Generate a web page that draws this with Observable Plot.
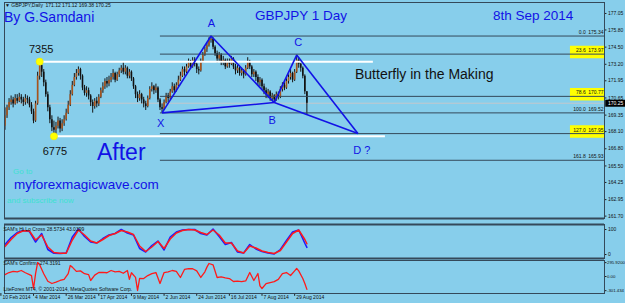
<!DOCTYPE html>
<html><head><meta charset="utf-8">
<script src="https://cdn.jsdelivr.net/npm/d3@7"></script>
<script src="https://cdn.jsdelivr.net/npm/@observablehq/plot@0.6"></script>
<style>
html,body{margin:0;padding:0;background:#87CEEB;}
#chart{position:relative;width:625px;height:303px;overflow:hidden;background:#87CEEB;font-family:"Liberation Sans",Arial,sans-serif;}
#chart svg{position:absolute;left:0;}
.t{position:absolute;white-space:nowrap;line-height:1;}
</style></head><body><div id="chart"></div>
<script>
// ---------- DATA ----------
const firstBar = 2;          // bar index of first candle (bar 0 = 10 Feb 2014)
const firstOpen = 168.5;
const closes = [169.3,169.9,170.3,170.5,170.2,170.6,170.4,170.7,170.5,170.3,170.6,170.5,170.1,169.6,168.9,
170.2,172.3,173.1,172.6,171.8,170.9,169.9,169.0,168.4,168.2,168.5,168.9,168.3,168.7,169.0,169.5,170.1,170.9,
171.6,172.2,172.5,172.8,172.3,171.4,171.0,171.2,170.8,170.3,170.0,170.4,170.2,170.7,171.2,171.5,171.9,171.7,
172.0,172.2,172.5,172.0,172.4,172.7,172.9,172.6,172.9,172.3,172.6,172.1,171.5,170.9,170.6,170.9,170.5,170.2,
170.0,170.6,171.3,171.5,171.2,171.4,170.5,169.9,169.8,170.3,170.8,170.6,171.1,171.5,171.2,171.6,172.0,172.3,
172.8,172.6,173.0,173.3,173.0,173.5,173.2,172.8,172.7,173.4,173.9,174.3,174.6,175.0,175.1,174.5,174.0,173.6,
173.9,173.3,173.5,173.0,173.4,173.2,173.6,173.0,172.7,172.9,172.5,172.7,172.4,172.9,173.4,173.0,172.4,172.6,
172.2,171.8,172.0,171.5,171.2,170.9,171.1,170.6,170.8,170.5,170.9,170.7,171.3,171.6,171.4,171.9,172.2,172.5,
172.0,172.6,173.5,173.2,172.9,172.3,171.12,170.25];
const highs = [169.9,170.1,170.6,170.8,170.7,170.9,170.9,171.0,170.9,170.7,170.9,170.8,170.7,170.3,169.8,
170.4,172.6,173.4,173.3,172.8,172.0,171.1,170.1,169.3,168.9,168.8,169.2,169.1,169.0,169.3,169.8,170.4,171.2,
171.9,172.5,172.8,173.0,172.9,172.4,171.6,171.5,171.4,170.9,170.5,170.6,170.7,170.9,171.4,171.8,172.1,172.2,
172.3,172.5,172.8,172.6,172.6,172.9,173.1,173.35,173.1,173.0,172.8,172.7,172.2,171.6,171.1,171.2,171.0,170.7,
170.4,170.8,171.5,171.8,171.6,171.7,171.5,170.6,170.2,170.5,171.0,171.0,171.3,171.8,171.7,171.8,172.3,172.6,
173.0,173.0,173.2,173.6,173.5,173.7,173.7,173.3,173.0,173.6,174.1,174.5,174.8,175.2,175.34,175.2,174.6,174.2,
174.1,174.0,173.8,173.6,173.6,173.6,173.8,173.7,173.2,173.1,173.0,172.9,172.8,173.1,173.7,173.5,173.1,172.8,
172.7,172.4,172.2,172.1,171.7,171.4,171.3,171.2,171.0,170.9,171.1,171.1,171.5,171.8,171.8,172.1,172.4,172.8,
172.6,172.8,173.9,173.7,173.3,173.0,172.4,171.12];
const lows = [168.2,169.1,169.7,170.1,169.9,170.1,170.2,170.3,170.2,170.0,170.1,170.2,169.9,169.4,168.7,
168.8,170.1,172.0,172.2,171.5,170.7,169.6,168.7,168.1,167.75,167.9,168.3,168.0,168.1,168.5,168.9,169.4,170.0,
170.8,171.5,172.0,172.3,172.0,171.2,170.8,170.7,170.5,170.0,169.5,169.8,169.9,170.0,170.6,171.0,171.3,171.4,
171.5,171.8,172.0,171.8,171.9,172.2,172.5,172.4,172.4,172.1,172.1,171.9,171.3,170.6,170.3,170.4,170.2,169.9,
169.7,169.9,170.5,171.1,170.9,171.0,170.3,169.7,169.52,169.7,170.2,170.3,170.5,171.0,171.0,171.1,171.5,171.9,
172.2,172.3,172.5,172.9,172.8,172.9,173.0,172.5,172.4,172.6,173.3,173.8,174.1,174.5,174.8,174.3,173.8,173.3,
173.4,173.1,173.1,172.8,172.9,172.9,173.1,172.8,172.4,172.5,172.3,172.3,172.1,172.3,172.8,172.8,172.2,172.2,
171.9,171.6,171.5,171.3,170.9,170.6,170.6,170.4,170.4,170.3,170.4,170.5,170.6,171.1,171.2,171.3,171.7,172.0,
171.8,171.9,172.5,172.9,172.6,172.1,170.9,169.38];
const currentPrice = 170.25;

const priceTicks = [177.05,175.80,174.50,173.20,171.95,170.65,169.35,168.10,166.80,165.50,164.25,162.95,161.70];
const dateTickBars = [0,16,32,48,64,80,96,112,128,144];
const dateTickLabels = ["10 Feb 2014","4 Mar 2014","26 Mar 2014","17 Apr 2014","9 May 2014","2 Jun 2014","24 Jun 2014","16 Jul 2014","7 Aug 2014","29 Aug 2014"];

const fibPct = ["0.0","23.6","78.6","100.0","127.0","161.8"];
const fibPrice = [175.34,173.97,170.77,169.52,167.95,165.93];
const fibHighlighted = [false,true,true,false,true,false];

const patLabels = ["X","A","B","C","D ?"];
const patBar = [79,103,134,145,175];
const patPrice = [169.52,175.34,170.30,173.90,167.95];
const patLinks = [[0,1],[1,2],[2,3],[3,4],[0,2],[2,4]];

const swingLabels = ["7355","6775"];
const swingBar = [19,26];
const swingPrice = [173.40,167.75];
const swingLineEnd = [182.6,188.5];

const crossBars = [2,5,8,11,14,17,20,23,26,29,32,35,38,41,44,47,50,53,56,59,62,65,68,71,74,77,80,83,86,89,92,95,98,101,104,107,110,113,116,119,122,125,128,131,134,137,140,143,146,149,150];
const crossBlue = [40,68,88,96,92,50,84,20,5,4,6,70,102,72,50,46,64,78,84,100,86,78,24,10,36,54,18,70,90,98,100,100,84,78,102,72,40,48,10,6,40,22,12,6,2,20,56,90,98,45,28.5734];
const crossRed  = [32,60,84,95,94,58,78,30,8,5,5,58,98,78,54,46,60,76,84,96,90,80,34,12,30,52,24,62,86,96,100,98,88,80,98,78,46,46,14,6,34,26,14,8,4,16,50,84,98,60,43.0399];
const crossTicks = [100,0];

const confBars = [2,4,6,8,10,12,14,15,16,17,18,19,21,23,25,27,29,31,33,34,35,37,39,41,43,44,46,48,50,52,54,56,58,60,62,63,64,66,67,68,70,72,74,76,78,80,82,84,86,88,90,92,94,96,98,100,101,102,104,106,108,110,112,114,116,118,120,122,124,126,127,128,130,132,134,136,138,140,142,144,145,146,148,149,150];
const confVals = [40,85,110,100,128,80,40,20,-256,60,298,250,60,-100,-149,-120,-85,-60,60,234,200,110,120,60,40,-85,30,85,90,80,128,100,110,70,128,-60,80,-20,-298,-40,-43,20,60,85,-149,85,100,128,110,-21,150,170,165,120,-21,100,200,277,250,-21,-10,-30,-43,-106,-100,-110,-95,85,-85,64,-200,-256,-150,-128,-110,-60,60,85,21,120,170,120,-43,-150,-274.3191];
const confTicks = [295.92,0,-301.434];
const confTickLabels = ["295.9200","0.00","-301.434"];

// ---------- LAYOUT ----------
const W = 625;
const xDomain = [1.765, 295.9];
const frameColor = "#34495a";
const blue = "#1212e6";
const font = "'Liberation Sans', Arial, sans-serif";
const baseStyle = {fontFamily: font, fontSize: "5px", background: "transparent", overflow: "visible"};

const bars = closes.map((c, k) => ({i: firstBar + k, open: k === 0 ? firstOpen : closes[k - 1], close: c, high: highs[k], low: lows[k]}));
const fibs = fibPct.map((p, k) => ({pct: p, price: fibPrice[k], hl: fibHighlighted[k]}));
const pts = patLabels.map((l, k) => ({label: l, i: patBar[k], price: patPrice[k]}));
const links = patLinks.map(([a, b]) => ({x1: pts[a].i, y1: pts[a].price, x2: pts[b].i, y2: pts[b].price}));
const swings = swingLabels.map((l, k) => ({label: l, i: swingBar[k], price: swingPrice[k], end: swingLineEnd[k]}));

const patDx = [-1.5, 0.5, -2, 1.5, 4];
const patDy = [11, -13, 18, -13, 17];
const swingDx = [1.5, 1];
const swingDy = [-12.5, 15];

const yMain = [161.52, 177.88];
const main = Plot.plot({
  width: W, height: 222, marginTop: 2, marginBottom: 4, marginLeft: 4, marginRight: 21,
  x: {domain: xDomain, axis: null},
  y: {domain: yMain, axis: null},
  style: baseStyle,
  marks: [
    Plot.ruleY([currentPrice], {stroke: "#c4c8cc", strokeWidth: 1}),
    Plot.ruleY(fibs.filter(d => d.hl), {y: "price", x1: 279.2, x2: xDomain[1], stroke: "#ffff00", strokeWidth: 12.5, dy: -2}),
    Plot.ruleX(bars, {x: "i", y1: "low", y2: "high", stroke: "#151515", strokeWidth: 1}),
    Plot.ruleX(bars, {x: "i", y1: "open", y2: "close", stroke: d => d.close >= d.open ? "#a9541c" : "#111111", strokeWidth: 1.6}),
    Plot.ruleY(fibs, {y: "price", x1: patBar[0] - 0.8, x2: xDomain[1], stroke: frameColor, strokeWidth: 1}),
    Plot.text(fibs, {x: xDomain[1], y: "price", text: d => d.pct + "\u2002" + d.price.toFixed(2), textAnchor: "end", dx: -1, dy: -3.5, fill: "#111", fontSize: 5}),
    Plot.ruleY(swings, {y: "price", x1: "i", x2: "end", stroke: "white", strokeWidth: 2}),
    Plot.link(links, {x1: "x1", y1: "y1", x2: "x2", y2: "y2", stroke: blue, strokeWidth: 1.6}),
    Plot.dot(swings, {x: "i", y: "price", r: 3.6, fill: "#ffff00", stroke: "#e6e600", strokeWidth: 0.5}),
    ...swings.map((s, k) => Plot.text([s], {x: "i", y: "price", text: "label", dx: swingDx[k], dy: swingDy[k], fill: "#111", fontSize: 11})),
    ...pts.map((p, k) => Plot.text([p], {x: "i", y: "price", text: "label", dx: patDx[k], dy: patDy[k], fill: blue, fontSize: 11})),
    // right price axis
    Plot.ruleY(priceTicks, {x1: xDomain[1], x2: xDomain[1] + 1.2, stroke: "#222"}),
    Plot.text(priceTicks, {y: d => d, frameAnchor: "right", dx: 3.5, textAnchor: "start", text: d => d.toFixed(2), fill: "#111", fontSize: 5}),
    Plot.ruleY([currentPrice], {x1: xDomain[1] + 0.6, x2: 306.5, stroke: "#000", strokeWidth: 7}),
    Plot.text([currentPrice], {y: d => d, frameAnchor: "right", dx: 3.5, textAnchor: "start", text: d => d.toFixed(2), fill: "#fff", fontSize: 5}),
    Plot.frame({stroke: frameColor, strokeWidth: 1}),
    Plot.ruleY([yMain[0]], {stroke: frameColor, strokeWidth: 2})
  ]
});

const yCross = [-16, 120];
const p1 = Plot.plot({
  width: W, height: 37, marginTop: 2, marginBottom: 1, marginLeft: 4, marginRight: 21,
  x: {domain: xDomain, axis: null},
  y: {domain: yCross, axis: null},
  style: baseStyle,
  marks: [
    Plot.line(crossBars.map((b, k) => ({i: b, v: crossBlue[k]})), {x: "i", y: "v", stroke: "#1a1aff", strokeWidth: 1.5}),
    Plot.line(crossBars.map((b, k) => ({i: b, v: crossRed[k]})), {x: "i", y: "v", stroke: "#ff1a1a", strokeWidth: 1.5}),
    Plot.ruleY(crossTicks, {x1: xDomain[1], x2: xDomain[1] + 1.2, stroke: "#222"}),
    Plot.text(crossTicks, {y: d => d, frameAnchor: "right", dx: 3.5, textAnchor: "start", text: d => String(d), fill: "#111", fontSize: 5}),
    Plot.frame({stroke: frameColor, strokeWidth: 1}),
    Plot.ruleY([yCross[1]], {stroke: frameColor, strokeWidth: 2}),
    Plot.ruleY([yCross[0]], {stroke: frameColor, strokeWidth: 2})
  ]
});

const yConf = [-362, 341];
const p2 = Plot.plot({
  width: W, height: 45, marginTop: 2, marginBottom: 10, marginLeft: 4, marginRight: 21,
  x: {domain: xDomain, axis: null},
  y: {domain: yConf, axis: null},
  style: baseStyle,
  marks: [
    Plot.line(confBars.map((b, k) => ({i: b, v: confVals[k]})), {x: "i", y: "v", stroke: "#ff1a1a", strokeWidth: 1.3}),
    Plot.ruleY(confTicks, {x1: xDomain[1], x2: xDomain[1] + 1.2, stroke: "#222"}),
    Plot.text(confTicks, {y: d => d, frameAnchor: "right", dx: 2.5, textAnchor: "start", text: (d, k) => confTickLabels[k], fill: "#111", fontSize: 4.3}),
    Plot.ruleX(dateTickBars, {x: d => d, y1: yConf[0], y2: yConf[0] - 60, stroke: "#222"}),
    Plot.text(dateTickBars, {x: d => d, frameAnchor: "bottom", dy: 5.5, dx: 1.5, textAnchor: "start", text: (d, k) => dateTickLabels[k], fill: "#111", fontSize: 5}),
    Plot.frame({stroke: frameColor, strokeWidth: 1})
  ]
});

const chart = document.getElementById("chart");
[[main, 0], [p1, 222], [p2, 258]].forEach(([svg, top]) => {
  svg.style.position = "absolute";
  svg.style.top = top + "px";
  svg.style.left = "0px";
  chart.appendChild(svg);
});

const texts = [
  {s: "\u25BC GBPJPY,Daily\u2002171.12 171.12 169.38 170.25", x: 5, y: 3, f: 5, c: "#111"},
  {s: "By G.Samdani", x: 4, y: 10, f: 14, c: blue},
  {s: "GBPJPY 1 Day", x: 255, y: 8.5, f: 13.5, c: blue},
  {s: "8th Sep 2014", x: 493, y: 8.5, f: 13.5, c: blue},
  {s: "Butterfly in the Making", x: 355, y: 66.5, f: 14, c: "#111"},
  {s: "After", x: 97, y: 140.5, f: 23, c: blue},
  {s: "Go to", x: 13, y: 168, f: 8, c: "#40e0d0"},
  {s: "myforexmagicwave.com", x: 14, y: 177.5, f: 13.5, c: blue},
  {s: "and subscribe now", x: 7, y: 197, f: 8, c: "#40e0d0"},
  {s: "SAM's Hi Lo Cross 28.5734 43.0399", x: 3.5, y: 227, f: 5, c: "#111"},
  {s: "SAM's Confirm -274.3191", x: 3.5, y: 261, f: 5, c: "#111"},
  {s: "LiteForex MT4, \u00A9 2001-2014, MetaQuotes Software Corp.", x: 3.5, y: 286.5, f: 5, c: "#111"}
];
texts.forEach(t => {
  const d = document.createElement("div");
  d.className = "t";
  d.textContent = t.s;
  d.style.left = t.x + "px"; d.style.top = t.y + "px";
  d.style.fontSize = t.f + "px"; d.style.color = t.c;
  chart.appendChild(d);
});
</script></body></html>
